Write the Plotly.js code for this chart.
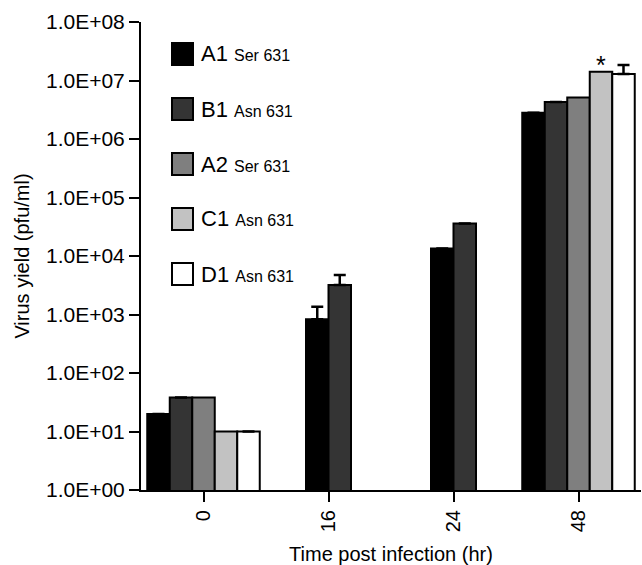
<!DOCTYPE html>
<html>
<head>
<meta charset="utf-8">
<script src="https://cdn.plot.ly/plotly-3.0.1.min.js"></script>
<style>html,body{margin:0;padding:0;background:#fff;}#chart{width:642px;height:565px;}</style>
</head>
<body>
<div id="chart"></div>
<script>
// ---- data ----
const categories = ['0', '16', '24', '48'];
const seriesNames = ['A1', 'B1', 'A2', 'C1', 'D1'];
const seriesSubs = ['Ser 631', 'Asn 631', 'Ser 631', 'Asn 631', 'Asn 631'];
const A1 = [20, 830, 13500, 2.8e6];
const B1 = [38, 3200, 36000, 4.3e6];
const A2 = [38, null, null, 5.1e6];
const C1 = [10, null, null, 1.41e7];
const D1 = [10, null, null, 1.29e7];
const A1_errPlus = [null, 530, null, null];
const B1_errPlus = [null, 1530, null, null];
const A2_errPlus = [null, null, null, null];
const C1_errPlus = [null, null, null, null];
const D1_errPlus = [null, null, null, 5.5e6];
const C1_marks = ['', '', '', '*'];
const yTickVals = [1, 10, 100, 1e3, 1e4, 1e5, 1e6, 1e7, 1e8];
const yTickText = ['1.0E+00', '1.0E+01', '1.0E+02', '1.0E+03', '1.0E+04', '1.0E+05', '1.0E+06', '1.0E+07', '1.0E+08'];

// ---- styling ----
const colors = ['#000000', '#343434', '#7f7f7f', '#c2c2c2', '#ffffff'];
const FONT = 'Liberation Sans, Arial, Helvetica, sans-serif';
const W = 0.18;   // bar width in category units

const allSeries = [A1, B1, A2, C1, D1];
const allErr = [A1_errPlus, B1_errPlus, A2_errPlus, C1_errPlus, D1_errPlus];

// centre the present bars of each category around its tick
const offsets = allSeries.map(() => []);
categories.forEach((c, i) => {
  const present = allSeries.map((s, k) => (s[i] != null ? k : -1)).filter(k => k >= 0);
  const n = present.length;
  present.forEach((k, j) => { offsets[k][i] = (j - n / 2) * W; });
  allSeries.forEach((s, k) => { if (s[i] == null) offsets[k][i] = 0; });
});

const traces = allSeries.map((s, k) => {
  const err = allErr[k];
  const t = {
    type: 'bar',
    name: seriesNames[k],
    x: categories,
    y: s,
    offset: offsets[k],
    width: W,
    marker: { color: colors[k], line: { color: '#000', width: 2 } },
    showlegend: false,
    hoverinfo: 'x+y+name',
    cliponaxis: false
  };
  if (err.some(v => v != null)) {
    t.error_y = {
      type: 'data', symmetric: false,
      array: err,
      arrayminus: err.map(v => (v == null ? null : 0)),
      color: '#000', thickness: 2.5, width: 6
    };
  }
  return t;
});

// ---- plot geometry (pixels) ----
const L = 141, R = 641, T = 22, B = 490;
const pxPerCat = (R - L) / 4;
const px = x => (x - L) / (R - L);
const py = y => (B - y) / (B - T);

const shapes = [];
const annotations = [];

// significance marks above the C1 bars (x given as category index)
C1_marks.forEach((m, i) => {
  if (!m) return;
  annotations.push({
    xref: 'x', yref: 'y', x: i, y: Math.log10(C1[i]),
    xshift: (offsets[3][i] + W / 2) * pxPerCat, yshift: 7,
    xanchor: 'center', yanchor: 'middle', showarrow: false,
    text: m, font: { family: FONT, size: 25, color: '#000' }
  });
});

// ---- custom legend (large boxes, two text sizes) ----
seriesNames.forEach((nm, k) => {
  const cy = 54 + k * 55;
  shapes.push({
    type: 'rect', xref: 'paper', yref: 'paper',
    x0: px(172), x1: px(193), y0: py(cy + 11), y1: py(cy - 11),
    fillcolor: colors[k], line: { color: '#000', width: 2 }
  });
  annotations.push({
    xref: 'paper', yref: 'paper', x: px(199), y: py(cy), xanchor: 'left', yanchor: 'middle',
    showarrow: false,
    text: nm + ' <span style="font-size:16px">' + seriesSubs[k] + '</span>',
    font: { family: FONT, size: 22, color: '#000' }
  });
});

const layout = {
  width: 642, height: 565,
  margin: { l: L, r: 642 - R, t: T, b: 565 - B },
  paper_bgcolor: '#fff', plot_bgcolor: '#fff',
  barmode: 'overlay',
  font: { family: FONT, color: '#000' },
  xaxis: {
    type: 'category', range: [-0.5, 3.5],
    showline: true, linecolor: '#000', linewidth: 2,
    ticks: 'outside', ticklen: 10, tickwidth: 2, tickcolor: '#000',
    tickangle: -90, tickfont: { family: FONT, size: 20, color: '#000' },
    showgrid: false, zeroline: false, fixedrange: true,
    title: { text: 'Time post infection (hr)', font: { family: FONT, size: 20, color: '#000' }, standoff: 21 }
  },
  yaxis: {
    type: 'log', range: [0, 8],
    tickvals: yTickVals, ticktext: yTickText,
    showline: true, linecolor: '#000', linewidth: 2,
    ticks: 'outside', ticklen: 10, tickwidth: 2, tickcolor: '#000',
    tickfont: { family: FONT, size: 21, color: '#000' },
    showgrid: false, zeroline: false, fixedrange: true,
    title: { text: 'Virus yield (pfu/ml)', font: { family: FONT, size: 20, color: '#000' }, standoff: 11 }
  },
  shapes: shapes,
  annotations: annotations
};

Plotly.newPlot('chart', traces, layout, { displayModeBar: false, staticPlot: true });
</script>
</body>
</html>
